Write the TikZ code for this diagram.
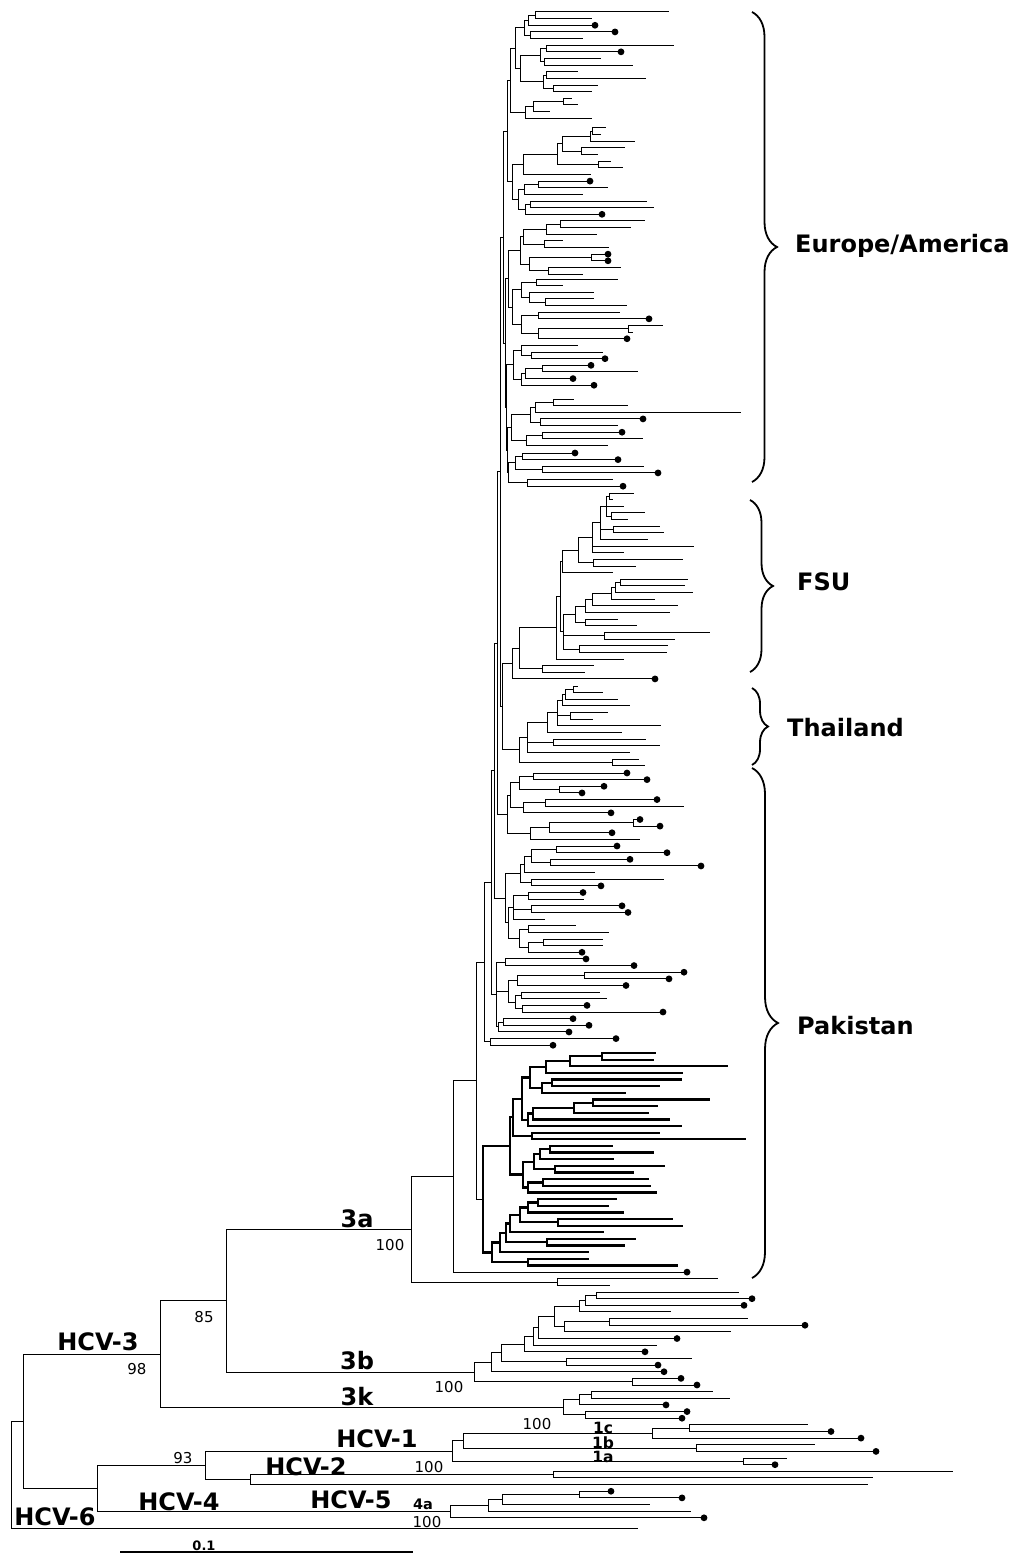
\documentclass[tikz,border=0pt]{standalone}
\usepackage{fontspec}
\setmainfont{DejaVu Sans}
\usepackage{tikz}
\usetikzlibrary{decorations.pathreplacing}

% tree helpers: leaves get their y in turn, a node joins its children
\def\phgy{12}
\def\phcy{0}
\def\phpx{11}
\let\phfy\relax
\let\phly\relax
\newcommand\phrec{\ifx\phfy\relax\let\phfy\phcy\fi\let\phly\phcy}
\newcommand\sety[1]{\xdef\phgy{#1}}
\newcommand\phleaf[2]{%
  \draw[brline] (\phpx,\phgy) -- (#1,\phgy);
  \ifnum#2=1 \fill (#1,\phgy) circle[radius=3.4pt];\fi
  \xdef\phcy{\phgy}\phrec
  \pgfmathsetmacro\phtmp{\phgy+6.64}\xdef\phgy{\phtmp}}
\newcommand\tleaf[1]{\phleaf{#1}{0}}
\newcommand\tdot[1]{\phleaf{#1}{1}}
\newcommand\tnode[2]{%
  \begingroup\def\phpx{#1}\let\phfy\relax\let\phly\relax
  #2%
  \draw[brline] (#1,\phfy) -- (#1,\phly);
  \pgfmathsetmacro\phtmp{(\phfy+\phly)/2}\xdef\phcy{\phtmp}%
  \endgroup
  \draw[brline] (\phpx,\phcy) -- (#1,\phcy);
  \phrec}

\begin{document}
\begin{tikzpicture}[x=1pt,y=-1pt,
    brline/.style={line width=1pt, line cap=rect},
    brc/.style={decorate, decoration={brace, amplitude=#1}, line width=1.8pt},
    grp/.style={font=\fontsize{24}{28}\selectfont\bfseries, anchor=base west, inner sep=0pt},
    sub/.style={font=\fontsize{24}{28}\selectfont\bfseries, anchor=base, inner sep=0pt},
    num/.style={font=\fontsize{15}{18}\selectfont, anchor=base, inner sep=0pt},
    sml/.style={font=\fontsize{15.5}{18}\selectfont\bfseries, anchor=base, inner sep=0pt}
]
\fill[white] (0,0) rectangle (1021,1554);
\useasboundingbox (0,0) rectangle (1021,1554);

% Tree
\tnode{11}{%
 \tnode{23}{%
  \tnode{160}{% HCV-3
   \tnode{226}{%
    \tnode{411}{% 3a
     \tnode{453}{%
      \tnode{476}{%
       \tnode{484}{%
        \tnode{491}{%
         \tnode{494}{%
          \tnode{497}{%
           \tnode{500}{%
            % Europe/America
            \tnode{503}{%
             \tnode{507}{%
              \tnode{510}{%
               \tnode{515}{\sety{12}%
                \tnode{524}{\tnode{528}{\tnode{535}{\tleaf{668}\tleaf{591}}\tdot{595}}\tnode{530}{\tdot{615}\tleaf{582}}}%
                \tnode{520}{%
                 \tnode{540}{\tnode{546}{\tleaf{673}\tdot{621}}\tnode{544}{\tleaf{600}\tleaf{632}}}%
                 \tnode{543}{\tnode{546}{\tleaf{577}\tleaf{645}}\tnode{553}{\tleaf{597}\tleaf{591}}}}}%
               \tnode{525}{\tnode{533}{\tnode{563}{\tleaf{571}\tleaf{577}}\tleaf{549}}\tleaf{591}}}%
              \tnode{512}{\sety{128}%
               \tnode{523}{\tnode{557}{\tnode{562}{\tnode{590}{\tnode{592}{\tleaf{605}\tleaf{600}}\tleaf{634}}\tnode{581}{\tleaf{624}\tleaf{597}}}\tnode{598}{\tleaf{610}\tleaf{622}}}\tleaf{590}}%
               \tnode{518}{\tnode{524}{\tnode{538}{\tdot{590}\tleaf{607}}\tleaf{582}}\tnode{525}{\tnode{530}{\tleaf{646}\tleaf{653}}\tdot{602}}}}}%
             \tnode{505}{%
              \tnode{508}{%
               \tnode{520}{\tnode{523}{\tnode{546}{\tnode{560}{\tleaf{644}\tleaf{630}}\tleaf{596}}\tnode{544}{\tleaf{562}\tleaf{608}}}\tnode{529}{\tnode{591}{\tdot{608}\tdot{608}}\tnode{548}{\tleaf{620}\tleaf{582}}}}%
               \sety{279}%
               \tnode{512}{\tnode{521}{\tnode{536}{\tleaf{617}\tleaf{562}}\tnode{529}{\tleaf{593}\tnode{545}{\tleaf{593}\tleaf{626}}}}\tnode{521}{\tnode{538}{\tleaf{619}\tdot{649}}\tnode{538}{\tnode{628}{\tleaf{662}\tleaf{632}}\tdot{627}}}}}%
              \tnode{506}{%
               \tnode{513}{\tnode{521}{\tleaf{577}\tnode{531}{\tleaf{602}\tdot{605}}}\tnode{521}{\tnode{525}{\tnode{542}{\tdot{591}\tleaf{637}}\tdot{573}}\tdot{594}}}%
               \tnode{507}{\sety{399}%
                \tnode{511}{\tnode{530}{\tnode{535}{\tnode{553}{\tleaf{573}\tleaf{627}}\tleaf{740}}\tnode{540}{\tdot{643}\tleaf{617}}}\tnode{526}{\tnode{542}{\tdot{622}\tleaf{642}}\tleaf{607}}}%
                \sety{453}%
                \tnode{508}{\tnode{515}{\tnode{522}{\tdot{575}\tdot{618}}\tnode{542}{\tleaf{643}\tdot{658}}}\tnode{527}{\tleaf{612}\tdot{623}}}}}}}%
            \tnode{502}{%
             % FSU
             \sety{493}%
             \tnode{512}{%
              \tnode{519}{%
               \tnode{556}{%
                \tnode{560}{%
                 \tnode{562}{\tnode{578}{\tnode{592}{\tnode{600}{\tnode{606}{\tnode{609}{\tleaf{633}\tleaf{612}}\tleaf{623}\tnode{611}{\tleaf{644}\tleaf{627}}}\tnode{613}{\tleaf{659}\tleaf{663}}\tleaf{647}}\tleaf{693}\tleaf{623}}\tnode{593}{\tleaf{682}\tleaf{635}}}\tleaf{612}}%
                 \tnode{563}{\tnode{575}{\tnode{585}{\tnode{592}{\tnode{611}{\tnode{615}{\tnode{620}{\tleaf{687}\tleaf{684}}\tleaf{692}}\tleaf{654}}\tleaf{677}}\tleaf{669}}\tnode{585}{\tleaf{617}\tleaf{636}}}\tnode{604}{\tleaf{709}\tleaf{674}}\tnode{579}{\tleaf{667}\tleaf{666}}}}%
                \tleaf{623}}%
               \tnode{542}{\tleaf{593}\tleaf{584}}}%
              \tdot{655}}%
             % Thailand
             \sety{686}%
             \tnode{519}{%
              \tnode{527}{\tnode{547}{\tnode{557}{\tnode{562}{\tnode{565}{\tnode{573}{\tleaf{577}\tleaf{602}}\tleaf{617}}\tleaf{629}}\tnode{570}{\tleaf{607}\tleaf{592}}\tleaf{660}}\tleaf{621}}\tnode{553}{\tleaf{645}\tleaf{659}}\tleaf{629}}%
              \tnode{612}{\tleaf{638}\tleaf{644}}}}}%
           % Pakistan
           \sety{773}%
           \tnode{507}{\tnode{510}{\tnode{519}{\tnode{533}{\tdot{627}\tdot{647}}\tnode{559}{\tdot{604}\tdot{582}}}\tnode{523}{\tnode{545}{\tdot{657}\tleaf{683}}\tdot{611}}}\tnode{530}{\tnode{549}{\tnode{633}{\tdot{640}\tdot{660}}\tdot{612}}\tleaf{639}}}}%
          \tnode{505}{%
           \tnode{520}{\tnode{524}{\tnode{531}{\tnode{556}{\tdot{617}\tdot{667}}\tnode{550}{\tdot{630}\tdot{701}}}\tleaf{594}}\tnode{531}{\tleaf{663}\tdot{601}}}%
           \tnode{508}{\tnode{513}{\tnode{528}{\tdot{583}\tleaf{583}}\tnode{531}{\tdot{622}\tdot{628}}\tleaf{544}}\tnode{519}{\tnode{528}{\tleaf{575}\tleaf{608}}\tnode{528}{\tnode{543}{\tleaf{602}\tleaf{602}}\tdot{582}}}}}}%
         \tnode{496}{\tnode{505}{\tdot{586}\tdot{634}}\tnode{508}{\tnode{517}{\tnode{584}{\tdot{684}\tdot{669}}\tdot{626}}\tnode{515}{\tnode{521}{\tleaf{599}\tleaf{606}}\tnode{522}{\tdot{587}\tdot{663}}}}\tnode{498}{\tnode{503}{\tdot{573}\tdot{589}}\tdot{569}}}}%
        \tnode{490}{\tdot{616}\tdot{553}}}%
       % thick clade
       \sety{1053}%
       \tnode{483}{\tikzset{brline/.style={line width=2.3pt, line cap=rect}}%
        \tnode{510}{%
         \tnode{513}{%
          \tnode{522}{%
           \tnode{530}{\tnode{546}{\tnode{570}{\tnode{602}{\tleaf{655}\tleaf{653}}\tleaf{727}}\tleaf{682}}\tnode{542}{\tnode{552}{\tleaf{681}\tleaf{659}}\tleaf{625}}}%
           \tnode{528}{\tnode{533}{\tnode{574}{\tnode{593}{\tleaf{709}\tleaf{657}}\tleaf{648}}\tleaf{669}}\tleaf{681}}}%
          \tnode{532}{\tleaf{659}\tleaf{745}}}%
         \tnode{523}{\tnode{534}{\tnode{540}{\tnode{550}{\tleaf{612}\tleaf{653}}\tleaf{613}}\tnode{555}{\tleaf{664}\tleaf{633}}}\tnode{528}{\tnode{543}{\tleaf{648}\tleaf{650}}\tleaf{656}}}}%
        \tnode{492}{\tnode{500}{\tnode{506}{\tnode{510}{\tnode{520}{\tnode{528}{\tnode{538}{\tleaf{616}\tleaf{608}}\tleaf{623}}\tnode{558}{\tleaf{672}\tleaf{682}}}\tleaf{603}}\tnode{547}{\tleaf{635}\tleaf{624}}}\tleaf{588}}\tnode{528}{\tleaf{588}\tleaf{677}}}}}%
      \tdot{687}}%
     \tnode{557}{\tleaf{717}\tleaf{609}}}%
    % 3b
    \tnode{474}{%
     \tnode{491}{\tnode{501}{\tnode{524}{\tnode{533}{\tnode{538}{\tnode{554}{\tnode{579}{\tnode{585}{\tnode{596}{\tleaf{738}\tdot{752}}\tdot{744}}\tleaf{670}}\tnode{564}{\tnode{609}{\tleaf{747}\tdot{805}}\tleaf{730}}}\tdot{677}}\tleaf{656}}\tdot{645}}\tnode{566}{\tleaf{691}\tdot{658}}}\tdot{664}}%
     \tnode{632}{\tdot{681}\tdot{697}}}}%
   % 3k
   \tnode{563}{\tnode{579}{\tnode{591}{\tleaf{712}\tleaf{729}}\tdot{666}}\tnode{585}{\tdot{687}\tdot{682}}}}%
  % HCV-1, HCV-2, HCV-5, HCV-4
  \tnode{97}{%
   \tnode{205}{%
    \tnode{452}{\tnode{463}{\tnode{652}{\tnode{689}{\tleaf{807}\tdot{831}}\tdot{861}}\tnode{696}{\tleaf{814}\tdot{876}}}\tnode{743}{\tleaf{786}\tdot{775}}}%
    \tnode{250}{\tnode{553}{\tleaf{952}\tleaf{872}}\tleaf{867}}}%
   \tnode{450}{\tnode{488}{\tnode{502}{\tnode{579}{\tdot{611}\tdot{682}}\tleaf{649}}\tleaf{690}}\tdot{704}}}}%
 % HCV-6
 \sety{1528}\tleaf{637}}

% Braces and groups
\draw[brc=25pt] (752,12) -- (752,482);
\draw[brc=23pt] (750,500) -- (750,672);
\draw[brc=16pt] (752,688) -- (752,765);
\draw[brc=26pt] (752,768) -- (752,1278);
\node[grp] (lEA) at (795,252) {Europe/America};
\node[grp] (lFSU) at (797,590) {FSU};
\node[grp] (lTH) at (787,736) {Thailand};
\node[grp] (lPK) at (797,1034) {Pakistan};

% Clade labels and support values
\node[sub] (l3a) at (357,1227) {3a};
\node[num] (b3a) at (390,1250) {100};
\node[num] (b85) at (204,1322) {85};
\node[sub] (lH3) at (98,1350) {HCV-3};
\node[num] (b98) at (137,1374) {98};
\node[sub] (l3b) at (357,1369) {3b};
\node[num] (b3b) at (449,1392) {100};
\node[sub] (l3k) at (357,1405) {3k};
\node[num] (b3k) at (537,1429) {100};
\node[sub] (lH1) at (377,1447) {HCV-1};
\node[sml] (l1c) at (603,1433) {1c};
\node[sml] (l1b) at (603,1448) {1b};
\node[sml] (l1a) at (603,1462) {1a};
\node[num] (b93) at (183,1463) {93};
\node[num] (bH1) at (429,1472) {100};
\node[sub] (lH2) at (306,1475) {HCV-2};
\node[sub] (lH4) at (179,1510) {HCV-4};
\node[sub] (lH5) at (351,1508) {HCV-5};
\node[sml, font=\fontsize{14.5}{16}\selectfont\bfseries] (l4a) at (423,1509) {4a};
\node[num] (b4a) at (427,1527) {100};
\node[sub] (lH6) at (55,1525) {HCV-6};

% Scale bar
\node[sml, font=\fontsize{13}{14}\selectfont\bfseries] (lsc) at (204,1550) {0.1};
\coordinate (sbl) at (120,1552);
\coordinate (sbr) at (413,1552);
\draw[line width=1.2pt] (sbl) -- (sbr);
\end{tikzpicture}
\end{document}
